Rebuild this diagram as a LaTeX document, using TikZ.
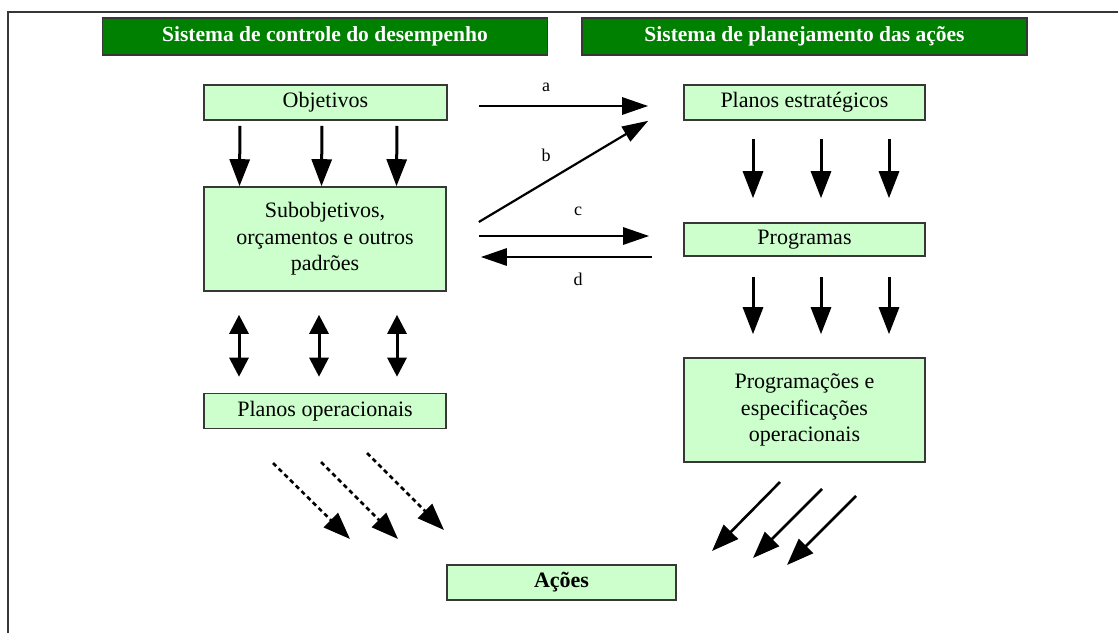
\documentclass[tikz,border=0pt]{standalone}
\usepackage{fontspec}
\setmainfont{Liberation Serif}
\usetikzlibrary{arrows.meta}
\definecolor{hdrgreen}{RGB}{0,128,0}
\definecolor{boxgreen}{RGB}{204,255,204}
\definecolor{edgegray}{RGB}{55,55,55}
\begin{document}
\begin{tikzpicture}[x=1pt,y=-1pt,
  frameline/.style={draw=edgegray, line width=1.5pt},
  hdr/.style={draw=edgegray, fill=hdrgreen, line width=1.2pt, text=white,
    font=\bfseries\fontsize{21.5}{25}\selectfont, inner sep=0pt,
    minimum width=445pt, minimum height=37pt},
  box/.style={draw=edgegray, fill=boxgreen, line width=1.6pt,
    font=\fontsize{22}{26.5}\selectfont, align=center, inner sep=0pt},
  lbl/.style={font=\fontsize{18}{21}\selectfont, inner sep=0pt},
  downarr/.style={line width=3pt, -{Triangle[length=27pt,width=20pt]}},
  botharr/.style={line width=3pt,
    {Triangle[length=19pt,width=19pt]}-{Triangle[length=19pt,width=19pt]}},
  sidearr/.style={line width=2.8pt, -{Triangle[length=26pt,width=17pt]}},
  slantarr/.style={line width=2.2pt, -{Triangle[length=26pt,width=17pt]}},
  diagarr/.style={line width=2.6pt, -{Triangle[length=27pt,width=20pt]}},
  dasharr/.style={line width=2.6pt, dash pattern=on 4.5pt off 3.5pt,
    -{Triangle[length=27pt,width=20pt]}}
]
\useasboundingbox (0,0) rectangle (1118,633);

% open frame: left and top edges only
\coordinate (fbl) at (8,633);
\coordinate (ftl) at (8,12);
\coordinate (ftr) at (1118,12);
\draw[frameline] (fbl) -- (ftl) -- (ftr);

% column headers
\node[hdr] (hdrA) at (325,36.5) {Sistema de controle do desempenho};
\node[hdr] (hdrB) at (804.5,36.5) {Sistema de planejamento das ações};

% left column
\node[box, minimum width=243pt, minimum height=35pt] (obj) at (325.5,102.5) {Objetivos};
\node[box, minimum width=242pt, minimum height=104pt] (sub) at (325,239)
  {Subobjetivos,\\orçamentos e outros\\padrões};
\node[box, minimum width=242pt, minimum height=35pt] (ops) at (325,411) {Planos operacionais};

% right column
\node[box, minimum width=241pt, minimum height=35pt] (pe) at (804.5,102.5) {Planos estratégicos};
\node[box, minimum width=241pt, minimum height=33pt] (prog) at (804.5,239.5) {Programas};
\node[box, minimum width=241pt, minimum height=104pt] (pesp) at (804.5,410)
  {Programações e\\especificações\\operacionais};

% bottom
\node[box, minimum width=229pt, minimum height=35pt, font=\bfseries\fontsize{22}{26}\selectfont]
  (acoes) at (561.5,582.5) {Ações};

% objectives to sub-objectives
\foreach \dx in {-85.5,-3.5,71.5}
  \draw[downarr, shorten <=5pt] ([xshift=\dx pt]obj.south) -- ([xshift=\dx pt]sub.north);

% sub-objectives <-> operational plans
\foreach \dx in {-86,-6,72}
  \draw[botharr, shorten <=23pt, shorten >=16pt] ([xshift=\dx pt]sub.south) -- ([xshift=\dx pt]ops.north);

% strategic plans to programs, programs to schedules
\foreach \dx in {-51.5,16.5,84.5}{
  \draw[downarr, shorten <=18pt, shorten >=24pt] ([xshift=\dx pt]pe.south) -- ([xshift=\dx pt]prog.north);
  \draw[downarr, shorten <=20pt, shorten >=23pt] ([xshift=\dx pt]prog.south) -- ([xshift=\dx pt]pesp.north);
}

% links between the two systems
\draw[sidearr, shorten <=31pt, shorten >=35pt] ([yshift=-3.5pt]obj.east) -- ([yshift=-3.5pt]pe.west);
\draw[slantarr] ([xshift=32pt,yshift=17pt]sub.east) -- ([xshift=-35pt]pe.south west);
\draw[sidearr, shorten <=32pt, shorten >=34pt] ([yshift=3pt]sub.east) -- ([yshift=3.5pt]prog.west);
\draw[sidearr, shorten <=31pt, shorten >=34pt] ([yshift=-17.5pt]prog.west) -- ([yshift=-18pt]sub.east);

\node[lbl] (la) at (546,87) {a};
\node[lbl] (lb) at (546,155) {b};
\node[lbl] (lc) at (578,211) {c};
\node[lbl] (ld) at (578,279) {d};

% dashed flows from operational plans towards actions
\coordinate (d1s) at (273,463); \coordinate (d1e) at (350,539);
\coordinate (d2s) at (321,462); \coordinate (d2e) at (398,539);
\coordinate (d3s) at (367,453); \coordinate (d3e) at (444,530);
\draw[dasharr] (d1s) -- (d1e);
\draw[dasharr] (d2s) -- (d2e);
\draw[dasharr] (d3s) -- (d3e);

% solid flows from schedules towards actions
\coordinate (s1s) at (780,482); \coordinate (s1e) at (712,551);
\coordinate (s2s) at (822,489); \coordinate (s2e) at (753,558);
\coordinate (s3s) at (856,496); \coordinate (s3e) at (787,565);
\draw[diagarr] (s1s) -- (s1e);
\draw[diagarr] (s2s) -- (s2e);
\draw[diagarr] (s3s) -- (s3e);
\end{tikzpicture}
\end{document}
